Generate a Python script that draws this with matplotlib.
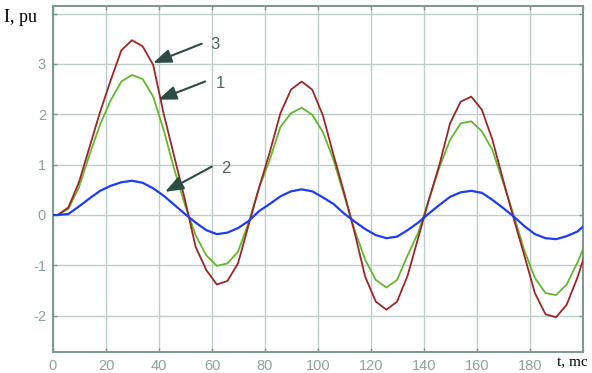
import numpy as np
import matplotlib
matplotlib.use("Agg")
import matplotlib.pyplot as plt

# time samples, ms
t = [0, 1.8, 5.8, 9.8, 13.8, 17.8, 21.8, 25.8, 29.8, 33.8, 37.8, 41.8, 45.8,
     49.8, 53.8, 57.8, 61.8, 65.8, 69.8, 73.8, 77.8, 81.8, 85.8, 89.8, 93.8,
     97.8, 101.8, 105.8, 109.8, 113.8, 117.8, 121.8, 125.8, 129.8, 133.8,
     137.8, 141.8, 145.8, 149.8, 153.8, 157.8, 161.8, 165.8, 169.8, 173.8,
     177.8, 181.8, 185.8, 189.8, 193.8, 197.8, 201.8]

# curve 1 (green)
i1 = [0, 0, 0.12, 0.55, 1.2, 1.8, 2.28, 2.65, 2.78, 2.70, 2.35, 1.68, 0.9,
      0.2, -0.4, -0.8, -1.01, -0.96, -0.73, -0.15, 0.55, 1.1, 1.75, 2.02, 2.13,
      1.99, 1.65, 1.1, 0.4, -0.3, -0.89, -1.29, -1.44, -1.29, -0.8,
      -0.35, 0.3, 0.95, 1.49, 1.82, 1.86, 1.66, 1.29, 0.65, 0.0,
      -0.7, -1.25, -1.55, -1.59, -1.38, -0.95, -0.45]

# curve 2 (blue)
i2 = [0, 0, 0.02, 0.17, 0.33, 0.48, 0.58, 0.65, 0.68, 0.64, 0.53, 0.38, 0.2,
      0.02, -0.15, -0.3, -0.38, -0.35, -0.26, -0.12, 0.08, 0.22, 0.37, 0.47, 0.51,
      0.47, 0.35, 0.22, 0.03, -0.13, -0.28, -0.4, -0.46, -0.43, -0.3,
      -0.15, 0.03, 0.2, 0.36, 0.45, 0.48, 0.44, 0.3, 0.14, -0.03,
      -0.22, -0.38, -0.46, -0.48, -0.42, -0.33, -0.15]

# curve 3 (red)
i3 = [0, 0, 0.15, 0.65, 1.35, 2.05, 2.68, 3.27, 3.47, 3.35, 2.98, 2.0, 1.15,
      0.3, -0.63, -1.09, -1.38, -1.31, -0.96, -0.2, 0.55, 1.25, 2.02, 2.49, 2.65,
      2.49, 1.98, 1.2, 0.45, -0.35, -1.23, -1.72, -1.88, -1.72, -1.2,
      -0.45, 0.3, 1.0, 1.82, 2.25, 2.35, 2.09, 1.49, 0.7, -0.07,
      -0.8, -1.55, -1.97, -2.03, -1.78, -1.25, -0.6]

# labels: (text, label xy, arrow tail xy, arrow tip xy)
callouts = [("3", (59.5, 3.38), (56.1, 3.40), (37.8, 3.02)),
            ("1", (61.3, 2.62), (57.4, 2.65), (39.7, 2.29)),
            ("2", (63.5, 0.93), (59.9, 0.96), (42.3, 0.46))]

grid_c = "#bccec8"
axis_c = "#7a988f"
tick_c = "#8ba39c"

fig = plt.figure(figsize=(5.92, 3.73), dpi=100)
ax = fig.add_axes([0.0895, 0.0563, 0.8955, 0.9277])

ax.plot(t, i1, color="#62b82e", lw=1.3, zorder=3)
ax.plot(t, i3, color="#9e2528", lw=1.3, zorder=3)
ax.plot(t, i2, color="#1d3cf5", lw=1.6, zorder=4)

for lab, lxy, tail, tip in callouts:
    ax.annotate("", xy=tip, xytext=tail,
                arrowprops=dict(arrowstyle="-|>,head_length=1.1,head_width=0.42",
                                color="#2c4b45", lw=1.5, shrinkA=0, shrinkB=0),
                zorder=5)
    ax.text(lxy[0], lxy[1], lab, color="#4f6660", fontsize=12,
            family="Liberation Sans", ha="left", va="center", zorder=5)

ax.set_xlim(0, 200)
ax.set_ylim(-2.72, 4.15)
ax.set_xticks(range(0, 201, 20))
ax.set_yticks(range(-2, 5))
ax.set_xticklabels(["0", "20", "40", "60", "80", "100", "120", "140", "160", "180", ""])
ax.set_yticklabels(["-2", "-1", "0", "1", "2", "3", ""])
ax.grid(True, color=grid_c, lw=1.0, zorder=0)
ax.tick_params(direction="in", length=3, width=1, color=axis_c,
               top=True, right=True, labelcolor=tick_c, labelsize=10.5, pad=5)
for lbl in ax.get_xticklabels() + ax.get_yticklabels():
    lbl.set_family("Liberation Sans")
for s in ax.spines.values():
    s.set_color(axis_c)
    s.set_linewidth(1.4)

fig.text(4 / 592, 1 - 18 / 373, "I, pu", family="Liberation Serif",
         fontsize=13, ha="left", va="center")
fig.text(588 / 592, 1 - 363 / 373, "t, mc", family="Liberation Serif",
         fontsize=11, ha="right", va="center")

fig.savefig("out.png", dpi=100)
